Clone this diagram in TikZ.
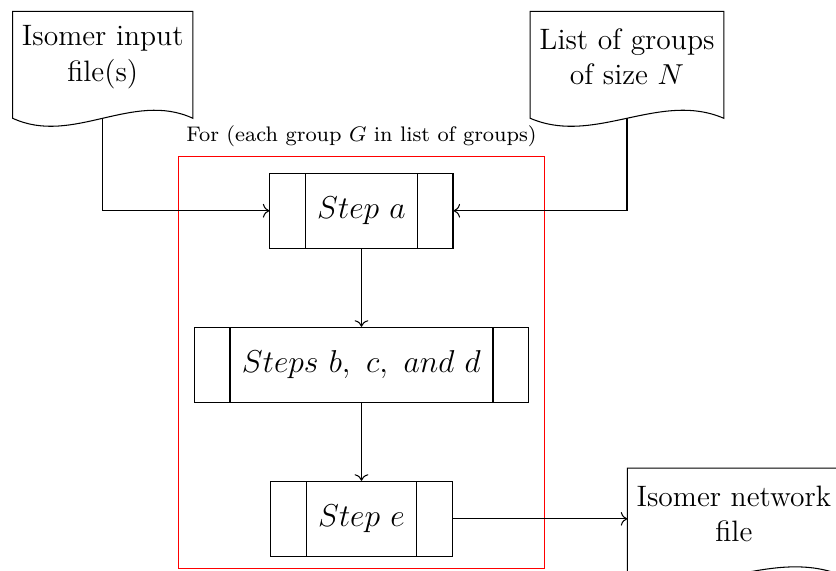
\documentclass[tikz,border=0pt]{standalone}
\usepackage{amsmath, amssymb}
\usepackage{tikz}
\usetikzlibrary{arrows.meta}
\usetikzlibrary{positioning,fit,calc}

% outline of a document symbol, wavy bottom
\newcommand{\docoutline}[1]{%
  \draw (#1.north west) -- (#1.north east) -- ($(#1.south east)+(0,-0.21)$)
    .. controls ($(#1.south east)!1/3!(#1.south west)+(0,0.16)$) and ($(#1.south east)!2/3!(#1.south west)+(0,-0.58)$) .. ($(#1.south west)+(0,-0.21)$) -- cycle;
  \coordinate (#1-w) at ($(#1.south)+(0,-0.21)$);
}

\begin{document}
\begin{tikzpicture}[font=\large, node distance=1.04cm]
\tikzstyle{stepbox}=[draw,rectangle,inner xsep=0.63cm,minimum height=1cm,
  path picture={
    \draw ([xshift=0.47cm]path picture bounding box.north west) -- ([xshift=0.47cm]path picture bounding box.south west);
    \draw ([xshift=-0.47cm]path picture bounding box.north east) -- ([xshift=-0.47cm]path picture bounding box.south east);
  }]
\tikzstyle{doc}=[rectangle,align=center,minimum height=1.2cm,font=\fontsize{11.2pt}{13.4pt}\selectfont]
\useasboundingbox (0,0) rectangle (11.147,-7.613);

\node [stepbox] (stepa) at (4.82,-2.81) {$Step\ a$};
\node [stepbox, below=of stepa] (stepbcd) {$Steps\ b,\ c,\ and\ d$};
\node [stepbox, below=of stepbcd] (stepe) {$Step\ e$};

\node [draw, color=red, fit=(stepa)(stepbcd)(stepe), inner xsep=0.21cm, inner ysep=0.19cm, yshift=0.03cm,
  label={[font=\footnotesize, text=black]above:For (each group $G$ in list of groups)}] (loop) {};

\node [doc] (indoc) at (1.37,-0.76) {Isomer input\\file(s)};
\node [doc] (groupdoc) at (8.36,-0.76) {List of groups\\of size $N$};
\node [doc, right=2.33cm of stepe, yshift=0.07cm] (netdoc) {Isomer network\\file};
\docoutline{indoc}
\docoutline{groupdoc}
\docoutline{netdoc}

\draw [->] (indoc-w) |- (stepa);
\draw [->] (groupdoc-w) |- (stepa);
\draw [->] (stepa) -- (stepbcd);
\draw [->] (stepbcd) -- (stepe);
\draw [->] (stepe) -- (stepe -| netdoc.west);
\end{tikzpicture}
\end{document}
